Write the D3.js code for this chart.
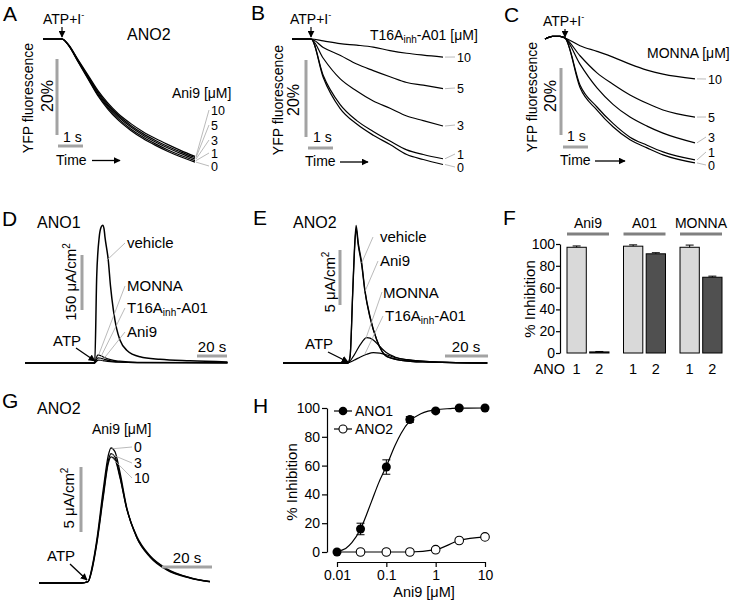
<!DOCTYPE html>
<html><head><meta charset="utf-8">
<script src="https://cdn.jsdelivr.net/npm/d3@7"></script>
<style>
body{margin:0;background:#fff}
svg text{font-family:"Liberation Sans",Arial,sans-serif;fill:#000}
</style></head><body>
<svg id="fig" width="732" height="600"></svg>
<script>
// ================= DATA =================
const concLabels = ["10", "5", "3", "1", "0"];

// Panel A: Ani9 on ANO2, time (s) vs YFP fluorescence (%)
const timeA = [0, 0.4, 0.76, 1.0, 1.4, 1.8, 2.2, 2.6, 3.0, 3.5, 4.0, 4.5, 5.0, 5.5, 6.08];
const fluorA10 = [100, 100, 100, 98.7, 94.6, 90.5, 86.4, 83.1, 80.4, 77.8, 75.6, 73.8, 72.2, 70.7, 69.1];
const fluorA5  = [100, 100, 100, 98.6, 94.4, 90.2, 86.0, 82.7, 80.0, 77.3, 75.1, 73.3, 71.7, 70.3, 68.8];
const fluorA3  = [100, 100, 100, 98.6, 94.3, 90.0, 85.7, 82.3, 79.6, 76.9, 74.7, 72.9, 71.3, 69.9, 68.4];
const fluorA1  = [100, 100, 100, 98.5, 94.1, 89.7, 85.3, 81.9, 79.1, 76.4, 74.2, 72.4, 70.8, 69.4, 68.0];
const fluorA0  = [100, 100, 100, 98.5, 94.0, 89.5, 85.0, 81.5, 78.7, 76.0, 73.8, 72.0, 70.4, 69.0, 67.6];

// Panel B: T16Ainh-A01
const timeB = [0, 0.76, 1.25, 1.92, 2.59, 3.25, 3.92, 4.59, 5.25, 6.04];
const fluorB10 = [100, 100, 99.5, 98.8, 98.4, 97.9, 97.0, 96.3, 95.8, 95.3];
const fluorB5  = [100, 100, 97.8, 95.8, 93.5, 91.8, 90.2, 88.7, 88.0, 87.1];
const fluorB3  = [100, 100, 95.0, 89.7, 86.5, 83.9, 82.0, 80.0, 78.8, 77.4];
const fluorB1  = [100, 100, 90.5, 83.0, 78.8, 76.0, 73.5, 71.2, 70.0, 68.9];
const fluorB0  = [100, 100, 90.0, 82.0, 77.9, 75.0, 72.6, 70.0, 68.7, 67.4];

// Panel C: MONNA
const timeC = [0, 0.3, 0.6, 0.8, 1.4, 2.08, 2.72, 3.4, 4.08, 4.72, 6.0];
const fluorC10 = [100, 100.8, 100.8, 100.3, 98.0, 96.3, 94.6, 92.5, 90.7, 89.5, 88.1];
const fluorC5  = [100, 100.8, 100.8, 100.3, 95.0, 89.9, 86.5, 83.3, 80.8, 78.8, 76.7];
const fluorC3  = [100, 100.8, 100.8, 100.3, 92.5, 85.4, 80.5, 76.7, 74.0, 71.9, 69.0];
const fluorC1  = [100, 100.8, 100.8, 100.3, 86.3, 79.7, 74.8, 70.7, 68.3, 66.3, 63.9];
const fluorC0  = [100, 100.8, 100.8, 100.3, 85.5, 78.8, 73.8, 69.9, 67.5, 65.4, 63.0];

// Panel D: ANO1 short-circuit current (uA/cm2) vs time (s)
const timeDveh = [0, 46.5, 47.8, 49.5, 50.7, 51.8, 52.7, 53.3, 55.5, 57, 58.9, 61, 63.3, 67.8, 76.7, 90, 110, 135];
const curDveh  = [0, 0, 235, 344, 370, 376, 366, 344, 281, 210, 145, 95, 63, 35, 17, 10, 6, 3];
const timeDinh = [0, 46.5, 47.5, 48.7, 50.5, 53, 57, 63, 75, 135];
const curDmonna = [0, 0, 14, 22, 20, 15, 9, 5, 2, 1];
const curDa01   = [0, 0, 8, 14, 13, 10, 6, 3, 1, 0.5];
const curDani9  = [0, 0, 4, 8, 7.5, 6, 4, 2, 1, 0.5];

// Panel E: ANO2 current
const timeEfast = [0, 30.2, 31.2, 32.4, 33.2, 34.0, 35.0, 36.6, 38.1, 40.5, 43.6, 48.2, 55, 65, 95];
const curEveh   = [0, 0, 0.6, 6.4, 10.3, 12.5, 10.9, 9.1, 6.6, 4.2, 2.1, 0.6, 0.25, 0.1, 0];
const curEani9  = [0, 0, 0.6, 6.2, 10.0, 12.2, 10.7, 8.9, 6.5, 4.1, 2.1, 0.6, 0.25, 0.1, 0];
const timeEslow = [0, 30.0, 33, 36, 39, 42, 45, 48, 52, 58, 70, 95];
const curEmonna = [0, 0, 0.7, 1.7, 2.3, 2.1, 1.5, 0.95, 0.55, 0.3, 0.1, 0];
const curEa01   = [0, 0, 0.25, 0.55, 0.8, 0.95, 0.9, 0.75, 0.5, 0.28, 0.1, 0];

// Panel F: % inhibition
const drugs = ["Ani9", "A01", "MONNA"];
const anoTypes = ["1", "2"];
const inhibANO1 = [97, 98, 97];
const inhibANO2 = [1, 91, 69.5];
const errANO1 = [1.2, 1.2, 2];
const errANO2 = [0.4, 1, 1];

// Panel G: ANO2 current with Ani9
const timeG = [0, 17, 19.6, 21.2, 23.1, 25.7, 27.7, 28.8, 30.4, 32.4, 35.1, 39.1, 44.4, 51.1, 60.4, 68.4];
const curG0  = [0, 0, 0.1, 1.2, 3.3, 7.2, 9.8, 10.4, 10.1, 8.5, 5.8, 3.5, 2.0, 1.0, 0.38, 0.08];
const curG3  = [0, 0, 0.1, 1.1, 3.1, 6.8, 9.4, 9.95, 9.7, 8.2, 5.7, 3.5, 2.05, 1.05, 0.4, 0.1];
const curG10 = [0, 0, 0.1, 1.0, 3.0, 6.6, 9.2, 9.7, 9.5, 8.1, 5.7, 3.6, 2.1, 1.1, 0.42, 0.12];
const concG = ["0", "3", "10"];

// Panel H: dose response
const concH = [0.01, 0.03, 0.1, 0.3, 1, 3, 10];
const inhibH1 = [0, 16, 59, 92, 98, 100, 100];
const errH1   = [0.5, 4, 5, 2, 1, 1, 0.8];
const inhibH2 = [0, 0, 0, 0, 1.6, 8, 10.5];
const errH2   = [0, 0.3, 0.3, 0.3, 0.8, 1.5, 1.5];
const fitConc = [0.01, 0.015, 0.02, 0.03, 0.05, 0.07, 0.1, 0.15, 0.2, 0.3, 0.5, 0.7, 1, 2, 3, 10];
const fitH1   = [0.5, 2.5, 6.5, 16, 35, 48, 59.5, 74, 82.5, 91, 96, 97.8, 98.8, 99.6, 99.9, 100];
const xTicksH = [0.01, 0.1, 1, 10];

// ================= DRAWING =================
const svg = d3.select("#fig");
const GRAY = "#a3a3a3";
const LEAD = "#a8a8a8";

const defs = svg.append("defs");
defs.append("marker").attr("id", "ah").attr("viewBox", "0 0 10 10")
  .attr("refX", 9).attr("refY", 5).attr("markerWidth", 7).attr("markerHeight", 7)
  .attr("markerUnits", "userSpaceOnUse").attr("orient", "auto")
  .append("path").attr("d", "M0,0 L10,5 L0,10 z").attr("fill", "#000");

function text(x, y, s, size, anchor) {
  return svg.append("text").attr("x", x).attr("y", y).attr("font-size", size)
    .attr("text-anchor", anchor || "start").text(s);
}
function vtext(x, y, size) {
  return svg.append("text").attr("transform", `translate(${x},${y}) rotate(-90)`)
    .attr("font-size", size).attr("text-anchor", "middle");
}
function arrow(x1, y1, x2, y2, w) {
  svg.append("line").attr("x1", x1).attr("y1", y1).attr("x2", x2).attr("y2", y2)
    .attr("stroke", "#000").attr("stroke-width", w || 1.2).attr("marker-end", "url(#ah)");
}
function seg(x1, y1, x2, y2, color, w) {
  svg.append("line").attr("x1", x1).attr("y1", y1).attr("x2", x2).attr("y2", y2)
    .attr("stroke", color).attr("stroke-width", w);
}
function trace(xs, ys, t, v, w) {
  const line = d3.line().x(d => xs(d[0])).y(d => ys(d[1])).curve(d3.curveMonotoneX);
  svg.append("path").datum(d3.zip(t, v)).attr("d", line)
    .attr("fill", "none").attr("stroke", "#000").attr("stroke-width", w || 1.3);
}
function atpI(x, y) {
  const t = text(x, y, "ATP+I", 14);
  t.append("tspan").attr("font-size", 9).attr("dy", -6).text("-");
}
function ylabelYFP(x, y) {
  vtext(x, y, 14).text("YFP fluorescence");
}

// panel letters
[["A", 3, 21], ["B", 251, 20], ["C", 504, 22], ["D", 2, 226], ["E", 253, 225],
 ["F", 503, 225], ["G", 2, 408], ["H", 253, 413]].forEach(p => text(p[1], p[2], p[0], 21));

// ----- Panel A -----
{
  const xs = d3.scaleLinear().domain([0, 6.08]).range([43, 195]);
  const ys = d3.scaleLinear().domain([100, 80]).range([39, 115]);
  const series = [fluorA10, fluorA5, fluorA3, fluorA1, fluorA0];
  series.forEach(s => trace(xs, ys, timeA, s, 1.2));
  atpI(43, 24);
  arrow(xs(0.76), 27, xs(0.76), 37, 1.2);
  text(127, 40, "ANO2", 16);
  seg(57, 59, 57, 59 + ys(80) - ys(100), GRAY, 3);
  seg(58, 146, 58 + xs(1) - xs(0), 146, GRAY, 3);
  vtext(53, 96, 16).text("20%");
  ylabelYFP(33, 98);
  text(63, 142, "1 s", 14);
  text(56, 165, "Time", 14);
  arrow(92, 160.5, 120, 160.5, 1.3);
  text(172, 98, "Ani9 [μM]", 14);
  const labY = [110, 125, 140, 153, 166];
  series.forEach((s, i) => {
    seg(xs(6.08) + 1, ys(s[s.length - 1]), 209, labY[i], LEAD, 0.8);
    text(211, labY[i] + 4.5, concLabels[i], 12.5);
  });
}

// ----- Panel B -----
{
  const xs = d3.scaleLinear().domain([0, 6.04]).range([292, 443]);
  const ys = d3.scaleLinear().domain([100, 80]).range([39, 116]);
  const series = [fluorB10, fluorB5, fluorB3, fluorB1, fluorB0];
  series.forEach(s => trace(xs, ys, timeB, s, 1.2));
  atpI(290, 24);
  arrow(xs(0.76), 27, xs(0.76), 37, 1.2);
  const t = text(370, 40, "T16A", 14);
  t.append("tspan").attr("font-size", 10).attr("dy", 3).text("inh");
  t.append("tspan").attr("dy", -3).text("-A01 [μM]");
  seg(306, 60, 306, 60 + ys(80) - ys(100), GRAY, 3);
  seg(308, 148, 308 + xs(1) - xs(0), 148, GRAY, 3);
  vtext(299, 100, 16).text("20%");
  ylabelYFP(283, 100);
  text(313, 142, "1 s", 14);
  text(305, 166, "Time", 14);
  arrow(340, 162, 368, 162, 1.3);
  const labY = [57, 88, 125, 154, 167];
  series.forEach((s, i) => {
    seg(xs(6.04) + 2, ys(s[s.length - 1]), 455, labY[i], LEAD, 0.8);
    text(457, labY[i] + 4.5, concLabels[i], 12.5);
  });
}

// ----- Panel C -----
{
  const xs = d3.scaleLinear().domain([0, 6.0]).range([545, 695]);
  const ys = d3.scaleLinear().domain([100, 80]).range([39, 106]);
  const series = [fluorC10, fluorC5, fluorC3, fluorC1, fluorC0];
  series.forEach(s => trace(xs, ys, timeC, s, 1.2));
  atpI(543, 26);
  arrow(xs(0.8), 29, xs(0.8), 37, 1.2);
  text(647, 58, "MONNA [μM]", 14);
  seg(561, 68, 561, 68 + ys(80) - ys(100), GRAY, 3);
  seg(563, 147, 563 + xs(1) - xs(0), 147, GRAY, 3);
  vtext(556, 96, 16).text("20%");
  ylabelYFP(537, 97);
  text(567, 141, "1 s", 14);
  text(560, 165, "Time", 14);
  arrow(595, 161, 625, 161, 1.3);
  const labY = [79, 117, 137, 152, 165];
  series.forEach((s, i) => {
    seg(xs(6.0) + 2, ys(s[s.length - 1]), 706, labY[i], LEAD, 0.8);
    text(708, labY[i] + 4.5, concLabels[i], 12.5);
  });
}

// ----- Panel D -----
{
  const xs = d3.scaleLinear().domain([0, 135]).range([25, 227.5]);
  const ys = d3.scaleLinear().domain([0, 150]).range([363, 308]);
  trace(xs, ys, timeDinh, curDani9, 1.2);
  trace(xs, ys, timeDinh, curDa01, 1.2);
  trace(xs, ys, timeDinh, curDmonna, 1.2);
  trace(xs, ys, timeDveh, curDveh, 1.5);
  text(37, 228, "ANO1", 16);
  seg(82, 255, 82, 255 + ys(0) - ys(150), GRAY, 3);
  const v = vtext(76, 282, 15);
  v.append("tspan").text("150 μA/cm");
  v.append("tspan").attr("font-size", 10).attr("dy", -6).text("2");
  seg(197, 356, 197 + xs(20) - xs(0), 356, GRAY, 3);
  text(212, 352, "20 s", 15, "middle");
  text(53, 346, "ATP", 15);
  arrow(76, 348, 95, 361, 1.3);
  const labs = [["vehicle", 248, 54.5, 280], ["MONNA", 291, 49, 21], ["T16A", 313, 50, 12], ["Ani9", 337, 51.5, 6.5]];
  labs.forEach(l => {
    seg(xs(l[2]), ys(l[3]), 125, l[1] - 5, LEAD, 0.8);
    const t = text(127, l[1], l[0], 15);
    if (l[0] === "T16A") {
      t.append("tspan").attr("font-size", 10).attr("dy", 3).text("inh");
      t.append("tspan").attr("dy", -3).text("-A01");
    }
  });
}

// ----- Panel E -----
{
  const xs = d3.scaleLinear().domain([0, 95]).range([283, 487.3]);
  const ys = d3.scaleLinear().domain([0, 5]).range([363, 308]);
  trace(xs, ys, timeEslow, curEa01, 1.2);
  trace(xs, ys, timeEslow, curEmonna, 1.2);
  trace(xs, ys, timeEfast, curEani9, 1.3);
  trace(xs, ys, timeEfast, curEveh, 1.3);
  text(293, 228, "ANO2", 16);
  seg(340, 250, 340, 250 + ys(0) - ys(5), GRAY, 3);
  const v = vtext(335, 282, 15);
  v.append("tspan").text("5 μA/cm");
  v.append("tspan").attr("font-size", 10).attr("dy", -6).text("2");
  seg(445, 356, 445 + xs(20) - xs(0), 356, GRAY, 3);
  text(466, 352, "20 s", 15, "middle");
  text(305, 349, "ATP", 15);
  arrow(328, 352, 348, 362, 1.3);
  const labs = [["vehicle", 242, 36.6, 9.1, 373, 237, 380], ["Ani9", 266, 38.1, 6.5, 378, 261, 380],
                ["MONNA", 298, 38.5, 2.2, 382, 292, 383], ["T16A", 321, 38, 0.78, 383, 316, 385]];
  labs.forEach(l => {
    seg(xs(l[2]), ys(l[3]), l[4], l[5], LEAD, 0.8);
    const t = text(l[6], l[1], l[0], 15);
    if (l[0] === "T16A") {
      t.append("tspan").attr("font-size", 10).attr("dy", 3).text("inh");
      t.append("tspan").attr("dy", -3).text("-A01");
    }
  });
}

// ----- Panel F -----
{
  const ys = d3.scaleLinear().domain([0, 100]).range([353, 244]);
  const xg = d3.scaleBand().domain(drugs).range([567, 722]).paddingInner(0.257);
  const xi = d3.scaleBand().domain(anoTypes).range([0, xg.bandwidth()]).paddingInner(0.15);
  const ax = svg.append("g").attr("transform", "translate(560,0)")
    .call(d3.axisLeft(ys).tickValues([0, 20, 40, 60, 80, 100]).tickSize(4).tickSizeOuter(0).tickPadding(1));
  ax.select(".domain").attr("stroke-width", 1.2);
  ax.selectAll(".tick line").attr("stroke-width", 1.2);
  ax.selectAll("text").attr("font-size", 14).attr("font-family", '"Liberation Sans", Arial, sans-serif');
  vtext(535, 299, 15).text("% Inhibition");
  drugs.forEach((d, i) => {
    const vals = [inhibANO1[i], inhibANO2[i]];
    const errs = [errANO1[i], errANO2[i]];
    anoTypes.forEach((a, j) => {
      const x = xg(d) + xi(a), w = xi.bandwidth();
      svg.append("rect").attr("x", x).attr("y", ys(vals[j])).attr("width", w)
        .attr("height", ys(0) - ys(vals[j]))
        .attr("fill", j === 0 ? "#d9d9d9" : "#505050").attr("stroke", "#000").attr("stroke-width", 1);
      const cx = x + w / 2;
      seg(cx, ys(vals[j] + errs[j]), cx, ys(vals[j]), "#000", 1);
      seg(cx - 4, ys(vals[j] + errs[j]), cx + 4, ys(vals[j] + errs[j]), "#000", 1);
      text(cx, 374, a, 14.5, "middle");
    });
    seg(xg(d), 234, xg(d) + xg.bandwidth(), 234, "#808080", 3);
    text(xg(d) + xg.bandwidth() / 2, 228, d, 14, "middle");
  });
  text(565, 374, "ANO", 14.5, "end");
}

// ----- Panel G -----
{
  const xs = d3.scaleLinear().domain([0, 68.4]).range([39, 210]);
  const ys = d3.scaleLinear().domain([0, 5]).range([583, 518]);
  [curG10, curG3, curG0].forEach(s => trace(xs, ys, timeG, s, 1.3));
  text(37, 414, "ANO2", 16);
  text(92, 434, "Ani9 [μM]", 14);
  seg(81, 467, 81, 467 + ys(0) - ys(5), GRAY, 3);
  const v = vtext(74, 498, 15);
  v.append("tspan").text("5 μA/cm");
  v.append("tspan").attr("font-size", 10).attr("dy", -6).text("2");
  seg(162, 567, 162 + xs(20) - xs(0), 567, GRAY, 3);
  text(187, 563, "20 s", 15, "middle");
  text(47, 561, "ATP", 15);
  arrow(70, 564, 87, 580, 1.3);
  const peaks = [curG0, curG3, curG10];
  const labY = [447, 463, 478];
  peaks.forEach((s, i) => {
    seg(xs(29.2), ys(s[7]) + 1, 132, labY[i], LEAD, 0.8);
    text(134, labY[i] + 5, concG[i], 14);
  });
}

// ----- Panel H -----
{
  const xs = d3.scaleLog().domain([0.01, 10]).range([337, 485]);
  const ys = d3.scaleLinear().domain([0, 100]).range([552, 408]);
  const FF = '"Liberation Sans", Arial, sans-serif';
  const ay = svg.append("g").attr("transform", "translate(327,0)")
    .call(d3.axisLeft(ys).tickValues([0, 20, 40, 60, 80, 100]).tickSize(5).tickSizeOuter(0).tickPadding(2));
  const axx = svg.append("g").attr("transform", "translate(0,562)")
    .call(d3.axisBottom(xs).tickValues(xTicksH).tickFormat(d => String(d)).tickSize(5).tickSizeOuter(0).tickPadding(3));
  [ay, axx].forEach(a => {
    a.select(".domain").attr("stroke-width", 1.2);
    a.selectAll(".tick line").attr("stroke-width", 1.2);
    a.selectAll("text").attr("font-size", 14).attr("font-family", FF);
  });
  vtext(297, 482, 15).text("% Inhibition");
  text(424, 597, "Ani9 [μM]", 14.5, "middle");
  const l2 = d3.line().x(d => xs(d[0])).y(d => ys(d[1])).curve(d3.curveMonotoneX);
  svg.append("path").datum(d3.zip(concH, inhibH2)).attr("d", l2)
    .attr("fill", "none").attr("stroke", "#000").attr("stroke-width", 1.2);
  svg.append("path").datum(d3.zip(fitConc, fitH1)).attr("d", l2)
    .attr("fill", "none").attr("stroke", "#000").attr("stroke-width", 1.2);
  concH.forEach((c, i) => {
    if (i > 0) {
      seg(xs(c), ys(inhibH2[i] - errH2[i]), xs(c), ys(inhibH2[i] + errH2[i]), "#000", 1);
    }
    const e = errH1[i];
    seg(xs(c), ys(inhibH1[i] - e), xs(c), ys(inhibH1[i] + e), "#000", 1);
    seg(xs(c) - 4, ys(inhibH1[i] + e), xs(c) + 4, ys(inhibH1[i] + e), "#000", 1);
    seg(xs(c) - 4, ys(inhibH1[i] - e), xs(c) + 4, ys(inhibH1[i] - e), "#000", 1);
  });
  concH.forEach((c, i) => {
    if (i > 0) svg.append("circle").attr("cx", xs(c)).attr("cy", ys(inhibH2[i])).attr("r", 4.3)
      .attr("fill", "#fff").attr("stroke", "#000").attr("stroke-width", 1.1);
  });
  concH.forEach((c, i) => {
    svg.append("circle").attr("cx", xs(c)).attr("cy", ys(inhibH1[i])).attr("r", 4.5).attr("fill", "#000");
  });
  seg(334, 411, 352, 411, "#000", 1.2);
  svg.append("circle").attr("cx", 343).attr("cy", 411).attr("r", 4.3).attr("fill", "#000");
  text(355, 416, "ANO1", 14);
  seg(334, 429, 352, 429, "#000", 1.2);
  svg.append("circle").attr("cx", 343).attr("cy", 429).attr("r", 4).attr("fill", "#fff").attr("stroke", "#000").attr("stroke-width", 1.1);
  text(355, 434, "ANO2", 14);
}
</script>
</body></html>
